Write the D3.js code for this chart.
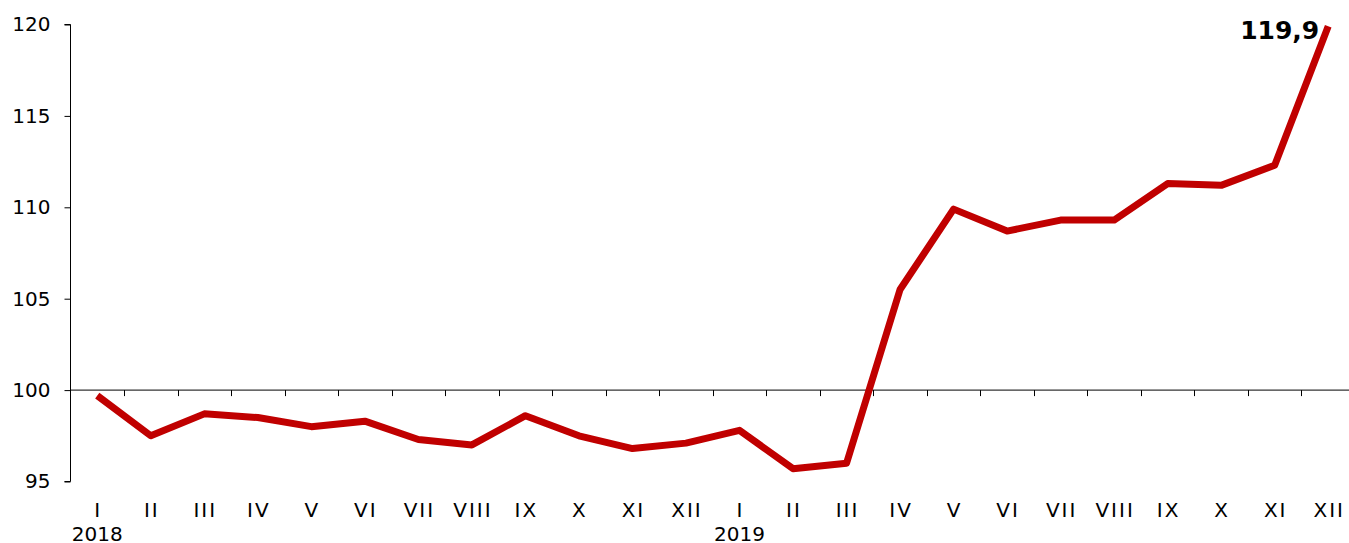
<!DOCTYPE html>
<html>
  <head>
    <script src="https://cdnjs.cloudflare.com/ajax/libs/d3/7.8.5/d3.min.js"></script>
    <style>
      body {
        margin: 0;
        background: #ffffff;
        font-family: "DejaVu Sans", Verdana, sans-serif;
      }
      .axis path,
      .axis line {
        stroke: #000;
        stroke-width: 1px;
      }
      .axis text {
        font-family: "DejaVu Sans", Verdana, sans-serif;
        font-size: 20px;
        fill: #000;
      }
      .month text {
        letter-spacing: 2px;
      }
    </style>
  </head>
  <body>
    <svg id="chart" width="1349" height="543"></svg>
    <script>
      const months = ["I", "II", "III", "IV", "V", "VI", "VII", "VIII", "IX", "X", "XI", "XII"];
      const years = ["2018", "2019"];
      const values = [
        99.7, 97.5, 98.7, 98.5, 98.0, 98.3, 97.3, 97.0, 98.6, 97.5, 96.8, 97.1,
        97.8, 95.7, 96.0, 105.5, 109.9, 108.7, 109.3, 109.3, 111.3, 111.2, 112.3, 119.9
      ];
      const yTicks = [95, 100, 105, 110, 115, 120];

      const categories = [];
      years.forEach((yr) => months.forEach((m) => categories.push(yr + "-" + m)));
      const data = categories.map((c, i) => ({ key: c, value: values[i] }));

      const svg = d3.select("#chart");
      const left = 70.5;
      const bandW = 53.52;

      const x = d3.scaleBand()
        .domain(categories)
        .range([left, left + bandW * categories.length]);

      const y = d3.scaleLinear().domain([95, 120]).range([481.5, 24.5]);

      // horizontal axis at 100
      const xAxis = svg.append("g")
        .attr("class", "axis")
        .attr("transform", `translate(0,${y(100)})`);
      xAxis.append("line")
        .attr("x1", left).attr("x2", 1349)
        .attr("y1", 0).attr("y2", 0);
      xAxis.selectAll("line.tick")
        .data(categories.slice(1))
        .enter()
        .append("line")
        .attr("class", "tick")
        .attr("x1", (d) => Math.round(x(d)) + 0.5)
        .attr("x2", (d) => Math.round(x(d)) + 0.5)
        .attr("y1", 0)
        .attr("y2", 6);

      // month labels
      svg.append("g")
        .attr("class", "axis month")
        .selectAll("text")
        .data(categories)
        .enter()
        .append("text")
        .attr("x", (d) => x(d) + x.bandwidth() / 2 + 1)
        .attr("y", 517)
        .attr("text-anchor", "middle")
        .text((d) => d.split("-")[1]);

      // year labels
      svg.append("g")
        .attr("class", "axis")
        .selectAll("text")
        .data(years)
        .enter()
        .append("text")
        .attr("x", (d) => x(d + "-I") + x.bandwidth() / 2)
        .attr("y", 541)
        .attr("text-anchor", "middle")
        .text((d) => d);

      // y axis
      const yAxis = d3.axisLeft(y).tickValues(yTicks).tickSize(6).tickPadding(14);
      svg.append("g")
        .attr("class", "axis")
        .attr("transform", `translate(${left},0)`)
        .call(yAxis)
        .call((g) => g.select(".domain").attr("d", `M-6,${y(120)}H0V${y(95)}H-6`));

      // line
      const line = d3.line()
        .x((d) => x(d.key) + x.bandwidth() / 2)
        .y((d) => y(d.value));

      svg.append("path")
        .datum(data)
        .attr("fill", "none")
        .attr("stroke", "#c00000")
        .attr("stroke-width", 7)
        .attr("stroke-linejoin", "round")
        .attr("d", line);

      // last value label
      const last = data[data.length - 1];
      svg.append("text")
        .attr("x", x(last.key) + x.bandwidth() / 2 - 9)
        .attr("y", y(last.value) + 13)
        .attr("text-anchor", "end")
        .attr("font-family", "DejaVu Sans, Verdana, sans-serif")
        .attr("font-size", 25)
        .attr("font-weight", "bold")
        .text(String(last.value).replace(".", ","));
    </script>
  </body>
</html>
